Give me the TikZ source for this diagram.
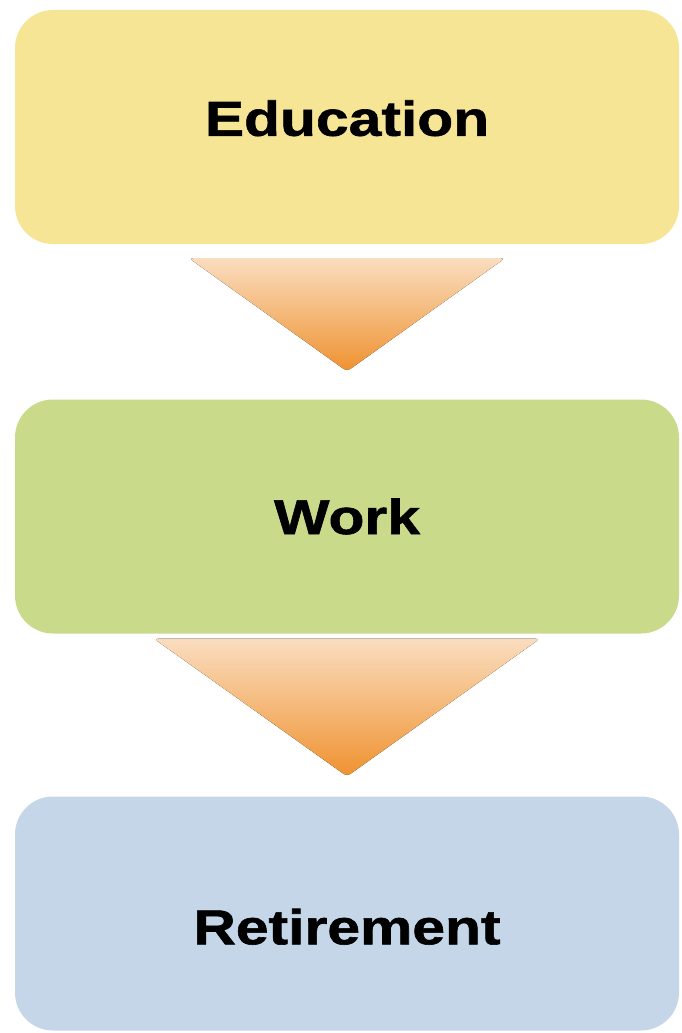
\documentclass[tikz,border=0pt]{standalone}
\usepackage{fontspec}
\newfontfamily\stagefont{Liberation Sans}[FakeStretch=1.2,BoldFeatures={FakeBold=1.2}]
\definecolor{eduyellow}{HTML}{F7E596}
\definecolor{workgreen}{HTML}{C9DA8B}
\definecolor{retblue}{HTML}{C4D6E8}
\definecolor{arrowtop}{HTML}{FADDBF}
\definecolor{arrowbottom}{HTML}{EF9230}
\begin{document}
\begin{tikzpicture}[x=1pt,y=-1pt]
	\tikzset{stagebox/.style={rounded corners=38pt, minimum width=664pt, minimum height=234pt, inner sep=0pt,
		font=\stagefont\bfseries\fontsize{49}{55}\selectfont},
		downarrow/.style={top color=arrowtop, bottom color=arrowbottom, rounded corners=4pt}}
	\useasboundingbox (0,0) rectangle (681,1033);
	\node [stagebox, fill=eduyellow, text depth=18pt] (edu) at (347,127) {Education};
	\node [stagebox, fill=workgreen] (work) at (347,516.5) {Work};
	\node [stagebox, fill=retblue, text height=62pt] (ret) at (347,913.5) {Retirement};
	% arrows between the stages
	\fill [downarrow] ([xshift=-158pt,yshift=-14pt]edu.south) -- ([xshift=158pt,yshift=-14pt]edu.south) -- ([yshift=28pt]work.north) -- cycle;
	\fill [downarrow] ([xshift=-193pt,yshift=-5pt]work.south) -- ([xshift=193pt,yshift=-5pt]work.south) -- ([yshift=20pt]ret.north) -- cycle;
\end{tikzpicture}
\end{document}
